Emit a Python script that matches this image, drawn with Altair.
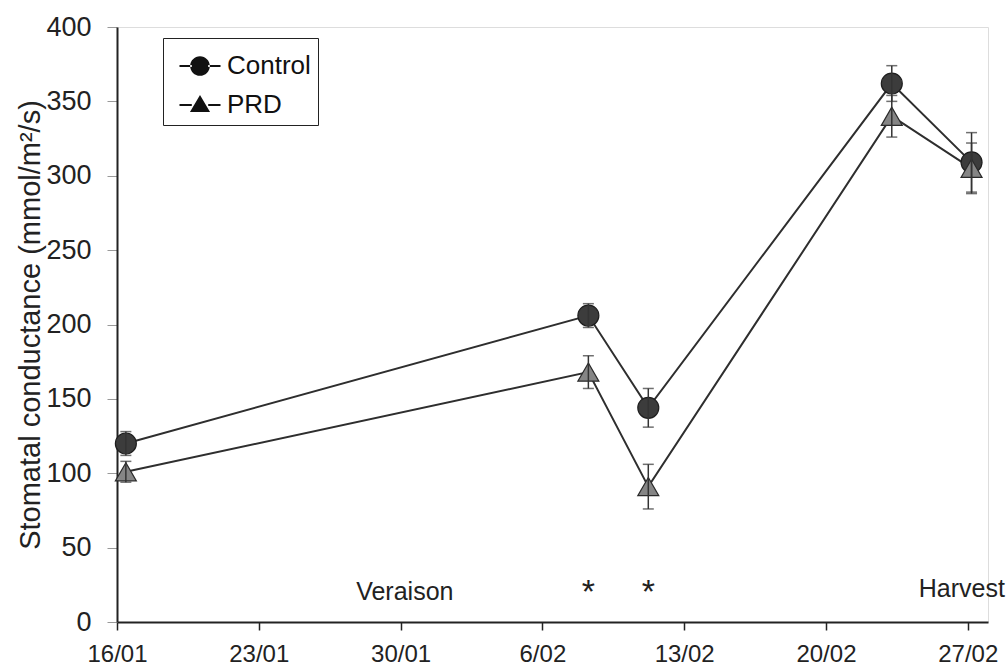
import altair as alt
import pandas as pd

# ---- data ----
dates = ["2001-01-16T10:30:00Z", "2001-02-08T06:30:00Z", "2001-02-11T05:30:00Z",
         "2001-02-23T06:00:00Z", "2001-02-27T04:30:00Z"]
control = [120, 206, 144, 362, 309]
control_err = [8, 8, 13, 12, 20]
prd = [101, 168, 91, 340, 305]
prd_err = [7, 11, 15, 14, 17]
series_names = ["Control", "PRD"]

tick_days = [(1, 16), (1, 23), (1, 30), (2, 6), (2, 13), (2, 20), (2, 27)]

word_labels = ["Veraison", "Harvest"]
word_dates = ["2001-01-30T05:00:00Z", "2001-02-26T17:00:00Z"]
word_y = [15, 16.5]
star_dates = ["2001-02-08T06:30:00Z", "2001-02-11T05:30:00Z"]
star_y = [13, 13]

# ---- tables ----
rows = []
for name, vals, errs in [("Control", control, control_err), ("PRD", prd, prd_err)]:
    for d, v, e in zip(dates, vals, errs):
        rows.append({"date": d, "value": v, "lo": v - e, "hi": v + e, "series": name})
df = pd.DataFrame(rows)
words = pd.DataFrame({"date": word_dates, "label": word_labels, "y": word_y})
stars = pd.DataFrame({"date": star_dates, "label": ["*"] * len(star_dates), "y": star_y})

FONT = "Liberation Sans"
INK = "#222222"

x_scale = alt.Scale(type="utc",
                    domain=[alt.DateTime(year=2001, month=1, date=16, utc=True),
                            alt.DateTime(year=2001, month=2, date=28, utc=True)])
y_scale = alt.Scale(domain=[0, 400], nice=False)

x_axis = alt.Axis(values=[alt.DateTime(year=2001, month=m, date=d, utc=True) for m, d in tick_days],
                  format="%-d/%m", title=None, grid=False, labelFontSize=24, labelFont=FONT,
                  labelColor=INK, domainColor=INK, domainWidth=2, tickColor=INK, tickWidth=1.5,
                  tickSize=8, labelPadding=12, labelFlush=False)
y_axis = alt.Axis(values=list(range(0, 401, 50)), title="Stomatal conductance (mmol/m²/s)",
                  grid=False, labelFontSize=27, labelFont=FONT, labelColor=INK,
                  titleFont=FONT, titleFontSize=29, titleFontWeight="normal", titleColor=INK,
                  titlePadding=0, domainColor=INK, domainWidth=2, tickColor="#999999",
                  tickWidth=1, tickSize=10, labelPadding=16)

X = alt.X("date:T", scale=x_scale, axis=x_axis)
Y = alt.Y("value:Q", scale=y_scale, axis=y_axis)

base = alt.Chart(df)

lines = base.mark_line(color="#2e2e2e", strokeWidth=2).encode(x=X, y=Y, detail="series:N")

# legend symbols: a short line with the marker on it (all filled areas)
LINE_BAR = "M-1,-0.05L-0.4,-0.05L-0.4,0.05L-1,0.05ZM0.4,-0.05L1,-0.05L1,0.05L0.4,0.05Z"
CIRC_PATH = LINE_BAR + "M-0.48,0A0.48,0.48,0,1,0,0.48,0A0.48,0.48,0,1,0,-0.48,0Z"
TRI_PATH = LINE_BAR + "M0,-0.49L0.49,0.34L-0.49,0.34Z"

legend = alt.Legend(
    title=None, orient="none", legendX=46, legendY=11, fillColor="white",
    strokeColor=INK, padding=7, symbolOffset=9, labelFontSize=26, labelFont=FONT,
    labelColor="#111111", rowPadding=5, symbolSize=1681, labelOffset=6,
    symbolFillColor="#111111", symbolStrokeColor="#111111", symbolStrokeWidth=1,
    symbolOpacity=1,
)

# invisible layer that only carries the legend (line + marker symbols)
legend_layer = base.mark_point(filled=True, opacity=0, fill="#111111").encode(
    x=X, y=Y,
    shape=alt.Shape("series:N", scale=alt.Scale(domain=series_names, range=[CIRC_PATH, TRI_PATH]),
                    legend=legend),
)

pts_control = base.transform_filter(alt.datum.series == "Control").mark_point(
    filled=True, shape="circle", size=440, fill="#3c3c3c", stroke="#1e1e1e",
    strokeWidth=1.2, opacity=1).encode(x=X, y=Y)
pts_prd = base.transform_filter(alt.datum.series == "PRD").mark_point(
    filled=True, shape="triangle-up", size=440, fill="#858585", stroke="#2a2a2a",
    strokeWidth=1.2, opacity=1).encode(x=X, y=Y)

err_rule = base.mark_rule(color="#333333", strokeWidth=1.5).encode(
    x=X, y=alt.Y("lo:Q", scale=y_scale), y2="hi:Q")
err_lo = base.mark_tick(orient="horizontal", size=11, thickness=1.5, color="#333333").encode(
    x=X, y=alt.Y("lo:Q", scale=y_scale))
err_hi = base.mark_tick(orient="horizontal", size=11, thickness=1.5, color="#333333").encode(
    x=X, y=alt.Y("hi:Q", scale=y_scale))

word_text = alt.Chart(words).mark_text(font=FONT, fontSize=25, color=INK, align="center",
                                       baseline="alphabetic").encode(
    x=alt.X("date:T", scale=x_scale), y=alt.Y("y:Q", scale=y_scale), text="label:N")
star_text = alt.Chart(stars).mark_text(font=FONT, fontSize=34, color=INK, align="center",
                                       baseline="alphabetic").encode(
    x=alt.X("date:T", scale=x_scale), y=alt.Y("y:Q", scale=y_scale), text="label:N")

chart = alt.layer(lines, legend_layer, pts_control, pts_prd, err_rule, err_lo, err_hi,
                  word_text, star_text).properties(
    width=871, height=595,
    autosize=alt.AutoSizeParams(type="none"),
    padding={"left": 117, "top": 27, "right": 18, "bottom": 48},
).configure_view(stroke=None).configure(background="white")

chart.save("out.html", embed_options={"renderer": "svg", "actions": False})
